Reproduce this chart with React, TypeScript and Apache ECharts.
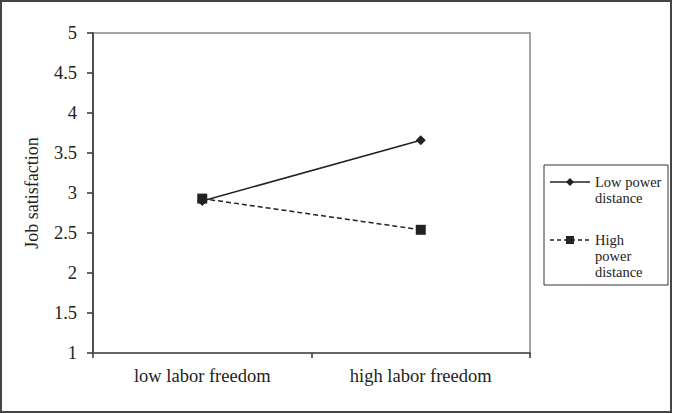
import React, { useEffect, useRef } from "react";
import * as echarts from "echarts";

const categories = ["low labor freedom", "high labor freedom"];
const lowPowerDistance = [2.9, 3.66];
const highPowerDistance = [2.93, 2.54];
const seriesNames = ["Low power distance", "High power distance"];
const yTicks = { min: 1, max: 5, interval: 0.5 };

const FONT = "'Liberation Serif', 'Times New Roman', serif";
const INK = "#222";

export default function App() {
  const ref = useRef<HTMLDivElement>(null);
  useEffect(() => {
    if (!ref.current) return;
    const chart = echarts.init(ref.current, null, { renderer: "svg" });
    chart.setOption({
      animation: false,
      backgroundColor: "#fff",
      textStyle: { fontFamily: FONT, color: INK },
      grid: {
        left: 93,
        top: 33,
        right: 155,
        bottom: 61,
        show: true,
        borderColor: "#888",
        borderWidth: 1.5,
        backgroundColor: "transparent",
      },
      xAxis: {
        type: "category",
        data: categories,
        boundaryGap: true,
        axisLine: { lineStyle: { color: "#666", width: 2 } },
        axisTick: { show: true, length: 5, alignWithLabel: false, lineStyle: { color: "#333", width: 1.5 } },
        axisLabel: { fontFamily: FONT, fontSize: 18.5, color: INK, margin: 13 },
      },
      yAxis: {
        type: "value",
        min: yTicks.min,
        max: yTicks.max,
        interval: yTicks.interval,
        name: "Job satisfaction",
        nameLocation: "middle",
        nameGap: 52,
        nameTextStyle: { fontFamily: FONT, fontSize: 18, color: INK },
        axisLine: { show: true, lineStyle: { color: "#333", width: 1.5 } },
        axisTick: { show: true, length: 6, lineStyle: { color: "#333", width: 1.5 } },
        axisLabel: { fontFamily: FONT, fontSize: 18.5, color: INK, margin: 16 },
        splitLine: { show: false },
      },
      series: [
        {
          name: seriesNames[0],
          type: "line",
          data: lowPowerDistance,
          symbol: "diamond",
          symbolSize: 10,
          lineStyle: { color: INK, width: 1.5, type: "solid" },
          itemStyle: { color: INK },
        },
        {
          name: seriesNames[1],
          type: "line",
          data: highPowerDistance,
          symbol: "rect",
          symbolSize: 10,
          lineStyle: { color: INK, width: 1.5, type: [5, 3] },
          itemStyle: { color: INK },
        },
      ],
      graphic: [
        {
          type: "rect",
          shape: { x: 1, y: 1, width: 670, height: 411 },
          style: { fill: "none", stroke: "#444", lineWidth: 2 },
          silent: true,
        },
        {
          type: "rect",
          shape: { x: 544, y: 165, width: 124, height: 120 },
          style: { fill: "none", stroke: "#333", lineWidth: 1 },
          silent: true,
        },
        {
          type: "line",
          shape: { x1: 550, y1: 182, x2: 590, y2: 182 },
          style: { stroke: INK, lineWidth: 1.5 },
        },
        {
          type: "polygon",
          shape: { points: [[570, 178], [574, 182], [570, 186], [566, 182]] },
          style: { fill: INK },
        },
        {
          type: "text",
          x: 595,
          y: 174,
          style: { text: "Low power\ndistance", font: `14.5px ${FONT}`, fill: INK, lineHeight: 16, verticalAlign: "top" },
        },
        {
          type: "line",
          shape: { x1: 550, y1: 240, x2: 590, y2: 240 },
          style: { stroke: INK, lineWidth: 1.5, lineDash: [4, 3] },
        },
        {
          type: "rect",
          shape: { x: 566, y: 236, width: 8, height: 8 },
          style: { fill: INK },
        },
        {
          type: "text",
          x: 595,
          y: 232,
          style: { text: "High\npower\ndistance", font: `14.5px ${FONT}`, fill: INK, lineHeight: 16, verticalAlign: "top" },
        },
      ],
    });
    return () => chart.dispose();
  }, []);
  return (
    <div
      ref={ref}
      style={{ position: "fixed", left: 0, top: 0, width: 685, height: 414, background: "#fff" }}
    />
  );
}
